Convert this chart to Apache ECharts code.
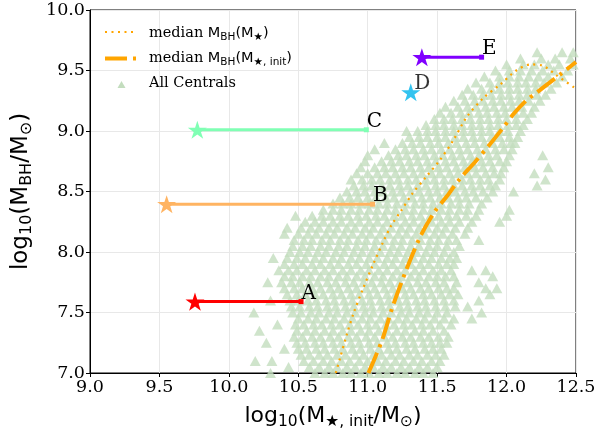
<!DOCTYPE html>
<html>
<head>
<meta charset="utf-8">
<script src="https://cdn.jsdelivr.net/npm/echarts@6/dist/echarts.min.js"></script>
<style>
html,body{margin:0;padding:0;background:#fff;}
#chart{width:606px;height:435px;}
</style>
</head>
<body>
<div id="chart"></div>
<script>
// ---- axis ticks ----
const xTicks = [9.0, 9.5, 10.0, 10.5, 11.0, 11.5, 12.0, 12.5];
const yTicks = [7.0, 7.5, 8.0, 8.5, 9.0, 9.5, 10.0];

// ---- median curves ----
const medianStarX = [10.77,10.80,10.85,10.90,10.96,11.04,11.11,11.17,11.24,11.32,11.42,11.52,11.62,11.71,11.83,11.95,12.07,12.17,12.26,12.36,12.50];
const medianStarY = [7.00,7.12,7.32,7.50,7.68,7.90,8.08,8.22,8.34,8.48,8.62,8.76,8.93,9.11,9.27,9.38,9.50,9.55,9.54,9.46,9.35];
const medianInitX = [11.005,11.10,11.18,11.27,11.38,11.48,11.57,11.66,11.77,11.88,11.97,12.05,12.14,12.22,12.31,12.40,12.50];
const medianInitY = [7.00,7.26,7.55,7.83,8.13,8.33,8.46,8.60,8.74,8.89,9.02,9.14,9.25,9.32,9.40,9.48,9.57];

// ---- labelled objects ----
const objNames  = ['A','B','C','D','E'];
const objStartX = [9.756, 9.552, 9.773, 11.31, 11.39];
const objY      = [7.59, 8.395, 9.01, 9.32, 9.61];
const objEndX   = [10.52, 11.035, 10.99, null, 11.82];
const objColors = ['#ff0000','#ffb462','#80ffb4','#00b4eb','#8000ff'];

// ---- All Centrals (rows of equal y, x positions) ----
const centralsY = [7.00,7.05,7.10,7.15,7.20,7.25,7.30,7.35,7.40,7.45,7.50,7.55,7.60,7.65,7.70,7.75,7.80,7.85,7.90,7.95,
  8.00,8.05,8.10,8.15,8.20,8.25,8.30,8.35,8.40,8.45,8.50,8.55,8.60,8.65,8.70,8.75,8.80,8.85,8.90,8.95,
  9.00,9.05,9.10,9.15,9.20,9.25,9.30,9.35,9.40,9.45,9.50,9.55,9.60,9.65];
const centralsX = [
  [10.30,10.62,10.69,10.75,10.82,10.88,10.95,11.01,11.08,11.14,11.21,11.27,11.34,11.40,11.47],
  [10.43,10.58,10.65,10.72,10.78,10.85,10.91,10.98,11.04,11.11,11.17,11.24,11.30,11.37,11.43,11.50],
  [10.19,10.31,10.54,10.61,10.68,10.74,10.81,10.87,10.94,11.00,11.07,11.13,11.20,11.26,11.33,11.39,11.46,11.52],
  [10.52,10.58,10.65,10.71,10.78,10.84,10.91,10.97,11.04,11.10,11.17,11.23,11.30,11.36,11.43,11.49,11.55],
  [10.40,10.50,10.56,10.63,10.69,10.76,10.82,10.89,10.95,11.02,11.08,11.15,11.21,11.28,11.34,11.41,11.47,11.53],
  [10.27,10.49,10.55,10.62,10.68,10.75,10.81,10.88,10.94,11.01,11.07,11.14,11.20,11.27,11.33,11.40,11.46,11.52,11.57],
  [10.47,10.53,10.60,10.66,10.73,10.79,10.86,10.92,10.99,11.05,11.12,11.18,11.25,11.31,11.38,11.44,11.51,11.58],
  [10.22,10.49,10.56,10.62,10.69,10.75,10.82,10.88,10.95,11.01,11.08,11.14,11.21,11.27,11.34,11.40,11.47,11.55],
  [10.35,10.48,10.54,10.61,10.67,10.74,10.80,10.87,10.93,11.00,11.06,11.13,11.19,11.26,11.32,11.39,11.45,11.52,11.60],
  [10.50,10.57,10.63,10.70,10.76,10.83,10.89,10.96,11.02,11.09,11.15,11.22,11.28,11.35,11.41,11.48,11.55,11.62,11.75],
  [10.18,10.46,10.52,10.59,10.65,10.72,10.78,10.85,10.91,10.98,11.04,11.11,11.17,11.24,11.30,11.37,11.43,11.50,11.57,11.82],
  [10.45,10.51,10.58,10.64,10.71,10.77,10.84,10.90,10.97,11.03,11.10,11.16,11.23,11.29,11.36,11.42,11.49,11.56,11.63,11.72],
  [10.30,10.44,10.50,10.57,10.63,10.70,10.76,10.83,10.89,10.96,11.02,11.09,11.15,11.22,11.28,11.35,11.41,11.48,11.55,11.62,11.80],
  [10.42,10.49,10.55,10.62,10.68,10.75,10.81,10.88,10.94,11.01,11.07,11.14,11.20,11.27,11.33,11.40,11.46,11.53,11.59,11.65,11.88],
  [10.40,10.47,10.53,10.60,10.66,10.73,10.79,10.86,10.92,10.99,11.05,11.12,11.18,11.25,11.31,11.38,11.44,11.51,11.57,11.62,11.85,11.93],
  [10.28,10.38,10.45,10.51,10.58,10.64,10.71,10.77,10.84,10.90,10.97,11.03,11.10,11.16,11.23,11.29,11.36,11.42,11.49,11.55,11.64,11.80],
  [10.40,10.46,10.53,10.59,10.66,10.72,10.79,10.85,10.92,10.98,11.05,11.11,11.18,11.24,11.31,11.37,11.44,11.50,11.56,11.62,11.90],
  [10.36,10.43,10.49,10.56,10.62,10.69,10.75,10.82,10.88,10.95,11.01,11.08,11.14,11.21,11.27,11.34,11.40,11.47,11.53,11.60,11.75,11.85],
  [10.40,10.47,10.53,10.60,10.66,10.73,10.79,10.86,10.92,10.99,11.05,11.12,11.18,11.25,11.31,11.38,11.44,11.51,11.57,11.62],
  [10.32,10.42,10.49,10.55,10.62,10.68,10.75,10.81,10.88,10.94,11.01,11.07,11.14,11.20,11.27,11.33,11.40,11.46,11.53,11.59,11.64],
  [10.44,10.51,10.57,10.64,10.70,10.77,10.83,10.90,10.96,11.03,11.09,11.16,11.22,11.29,11.35,11.42,11.48,11.55,11.62],
  [10.46,10.53,10.59,10.66,10.72,10.79,10.85,10.92,10.98,11.05,11.11,11.18,11.24,11.31,11.37,11.44,11.50,11.57,11.66],
  [10.47,10.54,10.60,10.67,10.73,10.80,10.86,10.93,10.99,11.06,11.12,11.19,11.25,11.32,11.38,11.45,11.51,11.58,11.64,11.80],
  [10.40,10.50,10.57,10.63,10.70,10.76,10.83,10.89,10.96,11.02,11.09,11.15,11.22,11.28,11.35,11.41,11.48,11.54,11.61,11.70],
  [10.42,10.52,10.59,10.65,10.72,10.78,10.85,10.91,10.98,11.04,11.11,11.17,11.24,11.30,11.37,11.43,11.50,11.56,11.63,11.72],
  [10.55,10.62,10.68,10.75,10.81,10.88,10.94,11.01,11.07,11.14,11.20,11.27,11.33,11.40,11.46,11.53,11.59,11.66,11.75,11.95],
  [10.48,10.60,10.67,10.73,10.80,10.86,10.93,10.99,11.06,11.12,11.19,11.25,11.32,11.38,11.45,11.51,11.58,11.64,11.71,11.78,12.00],
  [10.68,10.75,10.81,10.88,10.94,11.01,11.07,11.14,11.20,11.27,11.33,11.40,11.46,11.53,11.59,11.66,11.72,11.80,12.02],
  [10.75,10.82,10.88,10.95,11.01,11.08,11.14,11.21,11.27,11.34,11.40,11.47,11.53,11.60,11.66,11.73,11.82],
  [10.80,10.87,10.93,11.00,11.06,11.13,11.19,11.26,11.32,11.39,11.45,11.52,11.58,11.65,11.71,11.78,11.86],
  [10.85,10.92,10.98,11.05,11.11,11.18,11.24,11.31,11.37,11.44,11.50,11.57,11.63,11.70,11.76,11.83,11.90,12.05],
  [10.90,10.97,11.03,11.10,11.16,11.23,11.29,11.36,11.42,11.49,11.55,11.62,11.68,11.75,11.81,11.88,11.92,12.22],
  [10.88,10.96,11.03,11.09,11.16,11.22,11.29,11.35,11.42,11.48,11.55,11.61,11.68,11.74,11.81,11.87,11.95,12.28],
  [10.92,11.00,11.07,11.13,11.20,11.26,11.33,11.39,11.46,11.52,11.59,11.65,11.72,11.78,11.85,11.91,11.96,12.20],
  [10.95,11.05,11.12,11.18,11.25,11.31,11.38,11.44,11.51,11.57,11.64,11.70,11.77,11.83,11.90,11.98,12.30],
  [10.98,11.10,11.17,11.23,11.30,11.36,11.43,11.49,11.56,11.62,11.69,11.75,11.82,11.88,11.95,12.00],
  [11.00,11.15,11.22,11.28,11.35,11.41,11.48,11.54,11.61,11.67,11.74,11.80,11.87,11.93,12.02,12.26],
  [11.05,11.20,11.27,11.33,11.40,11.46,11.53,11.59,11.66,11.72,11.79,11.85,11.92,11.98,12.04],
  [11.12,11.25,11.32,11.38,11.45,11.51,11.58,11.64,11.71,11.77,11.84,11.90,11.97,12.03,12.06],
  [11.30,11.37,11.43,11.50,11.56,11.63,11.69,11.76,11.82,11.89,11.95,12.02,12.08],
  [11.28,11.36,11.43,11.49,11.56,11.62,11.69,11.75,11.82,11.88,11.95,12.01,12.10],
  [11.42,11.49,11.55,11.62,11.68,11.75,11.81,11.88,11.94,12.01,12.07,12.12],
  [11.48,11.55,11.61,11.68,11.74,11.81,11.87,11.94,12.00,12.07,12.15],
  [11.52,11.60,11.67,11.73,11.80,11.86,11.93,11.99,12.06,12.12,12.18],
  [11.56,11.65,11.72,11.78,11.85,11.91,11.98,12.04,12.11,12.20],
  [11.62,11.70,11.77,11.83,11.90,11.96,12.03,12.09,12.16,12.24],
  [11.68,11.76,11.83,11.89,11.96,12.02,12.09,12.15,12.22,12.28],
  [11.72,11.82,11.89,11.95,12.02,12.08,12.15,12.21,12.32],
  [11.78,11.88,11.95,12.01,12.08,12.14,12.21,12.27,12.36],
  [11.84,11.95,12.02,12.09,12.16,12.23,12.30,12.40],
  [11.92,12.02,12.10,12.18,12.26,12.34,12.44],
  [12.00,12.12,12.20,12.30,12.38,12.48],
  [12.10,12.25,12.35,12.46],
  [12.22,12.40,12.48]
];

// ---- build ----
const centrals = [];
centralsY.forEach((y, i) => centralsX[i].forEach(x => centrals.push([x, y])));
const zip = (xs, ys) => xs.map((x, i) => [x, ys[i]]);

const STAR = 'path://M0,-100 L22.45,-30.9 L95.1,-30.9 L36.3,11.8 L58.8,80.9 L0,38.2 L-58.8,80.9 L-36.3,11.8 L-95.1,-30.9 L-22.45,-30.9 Z';
const ORANGE = '#ffa500';
const GREEN = '#c3ddbe';
const SERIF = 'DejaVu Serif';
const SANS = 'DejaVu Sans';

const NAME_DOT = 'median MBH(M★)';
const NAME_DASH = 'median MBH(M★,init)';
const NAME_ALL = 'All Centrals';

const objSeries = [];
objNames.forEach((n, i) => {
  const lab = {show: true, formatter: n, color: '#000', fontFamily: SERIF, fontSize: 20};
  if (objEndX[i] !== null) {
    objSeries.push({
      type: 'line', z: 5, silent: true,
      lineStyle: {color: objColors[i], width: 3},
      itemStyle: {color: objColors[i]},
      showSymbol: true,
      data: [
        {value: [objStartX[i], objY[i]], symbol: STAR, symbolSize: 19, symbolKeepAspect: true, label: {show: false}},
        {value: [objEndX[i], objY[i]], symbol: 'rect', symbolSize: 5,
          label: Object.assign({position: 'right', distance: 0, offset: [-2, -8]}, lab)}
      ]
    });
  } else {
    objSeries.push({
      type: 'scatter', z: 5, silent: true,
      itemStyle: {color: objColors[i]},
      data: [{value: [objStartX[i], objY[i]], symbol: STAR, symbolSize: 19, symbolKeepAspect: true,
        label: Object.assign({position: 'right', distance: 0, offset: [-6, -8]}, lab)}]
    });
  }
});

const legendFmt = {};
legendFmt[NAME_DOT] = '{g|}{t|median }{m|M}{s|BH}{m|(M}{s|★}{m|)}';
legendFmt[NAME_DASH] = '{g|}{t|median }{m|M}{s|BH}{m|(M}{s|★, init}{m|)}';
legendFmt[NAME_ALL] = '{g|}{t|All Centrals}';

// legend key decorations (drawn in pixel space of the legend box)
const legendKeys = [
  {type: 'line', silent: true, z: 10, shape: {x1: 105, y1: 32, x2: 137, y2: 32},
    style: {stroke: ORANGE, lineWidth: 2.2, lineDash: [2, 4.5]}},
  {type: 'line', silent: true, z: 10, shape: {x1: 105, y1: 58.5, x2: 138, y2: 58.5},
    style: {stroke: ORANGE, lineWidth: 4, lineDash: [22, 6, 3, 6]}},
  {type: 'polygon', silent: true, z: 10, shape: {points: [[117.5, 88], [125.5, 88], [121.5, 81]]},
    style: {fill: GREEN}}
];

const chart = echarts.init(document.getElementById('chart'), null, {renderer: 'canvas'});
chart.setOption({
  animation: false,
  backgroundColor: '#fff',
  grid: {left: 90, right: 30, top: 10, bottom: 56, show: true, borderColor: '#000', borderWidth: 1, containLabel: false},
  legend: {
    left: 104, top: 26, orient: 'vertical', itemWidth: 32, itemHeight: 8, itemGap: 8, padding: 0,
    icon: 'rect', itemStyle: {opacity: 0}, inactiveColor: '#000',
    data: [{name: NAME_DOT}, {name: NAME_DASH}, {name: NAME_ALL}],
    formatter: name => legendFmt[name],
    selectedMode: false,
    textStyle: {
      rich: {
        g: {width: 8},
        t: {fontFamily: SERIF, fontSize: 14.5, color: '#000', lineHeight: 19},
        m: {fontFamily: SANS, fontSize: 14.5, color: '#000', lineHeight: 19},
        s: {fontFamily: SANS, fontSize: 10.5, color: '#000', lineHeight: 12, verticalAlign: 'bottom'}
      }
    }
  },
  graphic: legendKeys,
  xAxis: {
    type: 'value', min: 9.0, max: 12.5, interval: 0.5,
    name: '{n|log}{s|10}{n|(M}{s|★, init}{n|/M}{s|⊙}{n|)}',
    nameLocation: 'middle', nameGap: 29,
    nameTextStyle: {
      rich: {
        n: {fontFamily: SANS, fontSize: 22, color: '#000', lineHeight: 28},
        s: {fontFamily: SANS, fontSize: 15.5, color: '#000', lineHeight: 17, verticalAlign: 'bottom'}
      }
    },
    axisLine: {show: true, onZero: false, lineStyle: {color: '#000', width: 1}},
    axisTick: {show: true, length: 4, lineStyle: {color: '#000'}},
    axisLabel: {fontFamily: SERIF, fontSize: 17.5, color: '#000', margin: 5, formatter: v => v.toFixed(1)},
    splitLine: {show: true, lineStyle: {color: '#e8e8e8', width: 1}}
  },
  yAxis: {
    type: 'value', min: 7.0, max: 10.0, interval: 0.5,
    name: '{n|log}{s|10}{n|(M}{s|BH}{n|/M}{s|⊙}{n|)}',
    nameLocation: 'middle', nameGap: 45,
    nameTextStyle: {
      rich: {
        n: {fontFamily: SANS, fontSize: 23, color: '#000', lineHeight: 28},
        s: {fontFamily: SANS, fontSize: 16, color: '#000', lineHeight: 17, verticalAlign: 'bottom'}
      }
    },
    axisLine: {show: true, onZero: false, lineStyle: {color: '#000', width: 1}},
    axisTick: {show: true, length: 4, lineStyle: {color: '#000'}},
    axisLabel: {fontFamily: SERIF, fontSize: 17.5, color: '#000', margin: 5, formatter: v => v.toFixed(1)},
    splitLine: {show: true, lineStyle: {color: '#e8e8e8', width: 1}}
  },
  series: [
    {
      name: NAME_ALL, type: 'scatter', z: 2, silent: true,
      symbol: 'triangle', symbolSize: [11, 10],
      itemStyle: {color: GREEN},
      data: centrals
    },
    {
      name: NAME_DOT, type: 'line', z: 3, silent: true, symbol: 'none', showSymbol: false, smooth: 0.3,
      lineStyle: {color: ORANGE, width: 2.2, type: [2, 4.5]},
      itemStyle: {color: ORANGE},
      data: zip(medianStarX, medianStarY)
    },
    {
      name: NAME_DASH, type: 'line', z: 3, silent: true, symbol: 'none', showSymbol: false, smooth: 0.3,
      lineStyle: {color: ORANGE, width: 4, type: [22, 6, 3, 6]},
      itemStyle: {color: ORANGE},
      data: zip(medianInitX, medianInitY)
    }
  ].concat(objSeries)
});
</script>
</body>
</html>
